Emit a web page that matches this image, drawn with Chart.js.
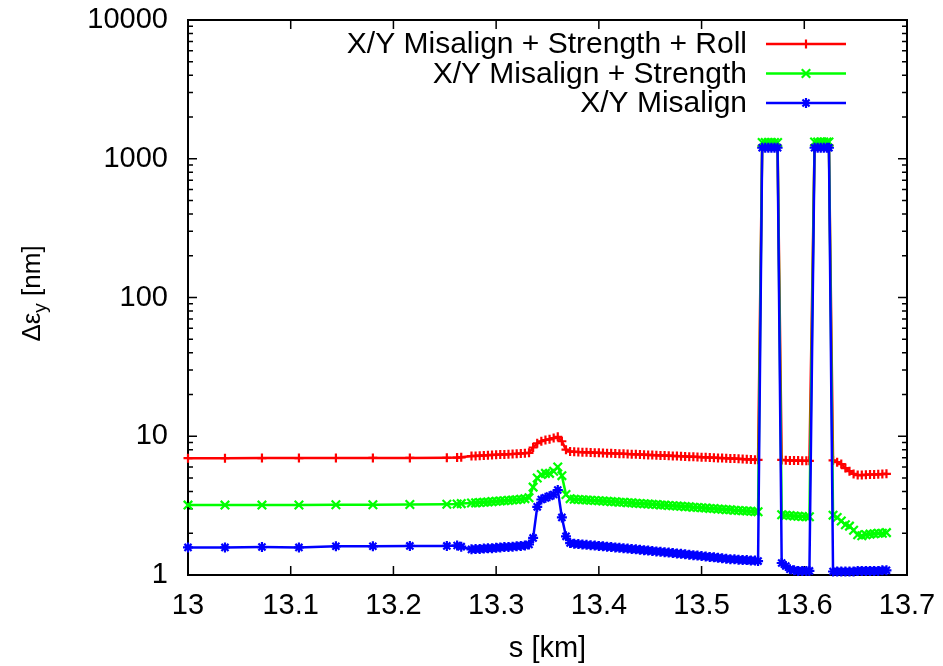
<!DOCTYPE html>
<html>
<head>
<meta charset="utf-8">
<script src="https://cdn.jsdelivr.net/npm/chart.js@4.4.0/dist/chart.umd.min.js"></script>
<style>
  html, body { margin: 0; padding: 0; background: #fff; }
  #wrap { width: 943px; height: 666px; }
</style>
</head>
<body>
<div id="wrap"><canvas id="emitChart" width="943" height="666"></canvas></div>
<script>
// s position along the line [km]
const sKm = [
  13.000, 13.036, 13.072, 13.108, 13.144, 13.180, 13.216, 13.252, 13.262, 13.266,
  13.276, 13.280, 13.284, 13.288, 13.292, 13.296, 13.300, 13.304, 13.308, 13.312,
  13.316, 13.320, 13.324, 13.328, 13.332, 13.336, 13.340, 13.344, 13.348, 13.352,
  13.356, 13.360, 13.364, 13.368, 13.372, 13.376, 13.380, 13.384, 13.388, 13.392,
  13.396, 13.400, 13.404, 13.408, 13.412, 13.416, 13.420, 13.424, 13.428, 13.432,
  13.436, 13.440, 13.444, 13.448, 13.452, 13.456, 13.460, 13.464, 13.468, 13.472,
  13.476, 13.480, 13.484, 13.488, 13.492, 13.496, 13.500, 13.504, 13.508, 13.512,
  13.516, 13.520, 13.524, 13.528, 13.532, 13.536, 13.540, 13.544, 13.548, 13.552,
  13.555,
  13.559, 13.562, 13.565, 13.568, 13.571, 13.574,
  13.578, 13.582, 13.586, 13.590, 13.594, 13.598, 13.602, 13.605,
  13.610, 13.613, 13.616, 13.619, 13.622, 13.624,
  13.628, 13.632, 13.636, 13.640, 13.644, 13.648, 13.652, 13.656, 13.660, 13.664,
  13.668, 13.672, 13.676, 13.680
];

// delta emittance y [nm]
const misStrRoll = [
  6.95, 6.95, 6.96, 6.96, 6.97, 6.98, 6.98, 7.00, 7.02, 7.05,
  7.20, 7.22, 7.25, 7.27, 7.30, 7.33, 7.35, 7.38, 7.40, 7.43,
  7.45, 7.48, 7.51, 7.55, 7.6, 8.3, 8.9, 9.2, 9.4, 9.5,
  9.7, 9.9, 9.2, 8.0, 7.75, 7.72, 7.70, 7.68, 7.66, 7.64,
  7.62, 7.60, 7.57, 7.55, 7.53, 7.51, 7.49, 7.47, 7.45, 7.43,
  7.41, 7.39, 7.36, 7.34, 7.32, 7.30, 7.28, 7.26, 7.24, 7.22,
  7.20, 7.18, 7.15, 7.13, 7.11, 7.09, 7.07, 7.05, 7.03, 7.01,
  6.98, 6.96, 6.94, 6.92, 6.90, 6.88, 6.85, 6.82, 6.80, 6.78,
  6.76,
  1240, 1250, 1250, 1250, 1250, 1240,
  6.75, 6.72, 6.70, 6.68, 6.68, 6.66, 6.65, 6.65,
  1250, 1260, 1260, 1260, 1260, 1250,
  6.7, 6.5, 6.3, 5.9, 5.6, 5.35, 5.25, 5.25, 5.28, 5.30,
  5.30, 5.32, 5.34, 5.36
];

const misStr = [
  3.19, 3.19, 3.19, 3.20, 3.21, 3.21, 3.22, 3.24, 3.25, 3.27,
  3.30, 3.31, 3.33, 3.35, 3.36, 3.38, 3.40, 3.42, 3.43, 3.45,
  3.47, 3.49, 3.52, 3.55, 3.6, 4.3, 5.0, 5.3, 5.4, 5.4,
  5.6, 6.0, 5.2, 3.8, 3.55, 3.52, 3.50, 3.49, 3.47, 3.46,
  3.44, 3.43, 3.41, 3.40, 3.38, 3.37, 3.35, 3.34, 3.32, 3.31,
  3.29, 3.28, 3.26, 3.25, 3.23, 3.22, 3.20, 3.19, 3.17, 3.16,
  3.14, 3.13, 3.11, 3.10, 3.08, 3.07, 3.05, 3.04, 3.02, 3.01,
  2.99, 2.98, 2.96, 2.95, 2.93, 2.92, 2.90, 2.89, 2.88, 2.87,
  2.86,
  1310, 1310, 1310, 1310, 1310, 1310,
  2.72, 2.70, 2.68, 2.66, 2.65, 2.64, 2.63, 2.63,
  1320, 1320, 1320, 1320, 1320, 1320,
  2.7, 2.6, 2.45, 2.3, 2.25, 2.1, 1.95, 1.92, 1.95, 1.97,
  1.98, 2.0, 2.0, 2.02
];

const misOnly = [
  1.58, 1.58, 1.59, 1.58, 1.61, 1.61, 1.62, 1.62, 1.63, 1.60,
  1.53, 1.54, 1.54, 1.55, 1.56, 1.56, 1.57, 1.58, 1.59, 1.59,
  1.60, 1.61, 1.62, 1.63, 1.66, 1.85, 3.1, 3.5, 3.6, 3.7,
  3.8, 4.1, 2.6, 1.9, 1.7, 1.68, 1.67, 1.66, 1.65, 1.64,
  1.63, 1.62, 1.61, 1.60, 1.59, 1.58, 1.57, 1.56, 1.55, 1.54,
  1.53, 1.52, 1.51, 1.50, 1.49, 1.48, 1.47, 1.46, 1.45, 1.44,
  1.43, 1.42, 1.41, 1.40, 1.39, 1.38, 1.37, 1.36, 1.35, 1.34,
  1.33, 1.32, 1.31, 1.30, 1.30, 1.29, 1.28, 1.28, 1.27, 1.27,
  1.26,
  1200, 1200, 1200, 1200, 1200, 1200,
  1.22, 1.16, 1.10, 1.08, 1.07, 1.07, 1.07, 1.07,
  1200, 1200, 1200, 1200, 1200, 1200,
  1.06, 1.06, 1.06, 1.06, 1.06, 1.06, 1.07, 1.07, 1.07, 1.07,
  1.07, 1.07, 1.08, 1.08
];

const seriesNames = ['X/Y Misalign + Strength + Roll', 'X/Y Misalign + Strength', 'X/Y Misalign'];
const seriesColors = ['#ff0000', '#00ff00', '#0000ff'];
const seriesMarkers = ['cross', 'crossRot', 'star'];
const markerSizes = [4.5, 6, 5];

const xTicks = [13, 13.1, 13.2, 13.3, 13.4, 13.5, 13.6, 13.7];
const xTickText = ['13', '13.1', '13.2', '13.3', '13.4', '13.5', '13.6', '13.7'];
const yTicks = [1, 10, 100, 1000, 10000];

const FONT = "'Liberation Sans', Arial, sans-serif";
Chart.defaults.font.family = FONT;
Chart.defaults.color = '#000';

const seriesData = [misStrRoll, misStr, misOnly];
const datasets = seriesData.map((vals, i) => ({
  label: seriesNames[i],
  data: sKm.map((s, j) => ({ x: s, y: vals[j] })),
  borderColor: seriesColors[i],
  backgroundColor: seriesColors[i],
  borderWidth: 2.5,
  pointStyle: seriesMarkers[i],
  pointRadius: markerSizes[i],
  pointBorderWidth: 2.2,
  pointBorderColor: seriesColors[i],
  tension: 0,
  clip: false,
  order: 2 - i
}));

// box + inward ticks (gnuplot style)
const frame = {
  id: 'frame',
  beforeDatasetsDraw(chart) {
    const { ctx, chartArea: a, scales: { x, y } } = chart;
    ctx.save();
    ctx.strokeStyle = '#000';
    ctx.lineWidth = 1.5;
    ctx.beginPath();
    xTicks.forEach(v => {
      const px = x.getPixelForValue(v);
      ctx.moveTo(px, a.bottom); ctx.lineTo(px, a.bottom - 9);
      ctx.moveTo(px, a.top); ctx.lineTo(px, a.top + 9);
    });
    yTicks.forEach(d => {
      for (let m = 1; m <= 9; m++) {
        const v = d * m;
        if (v > 10000) break;
        const py = y.getPixelForValue(v);
        const len = m === 1 ? 9 : 5;
        ctx.moveTo(a.left, py); ctx.lineTo(a.left + len, py);
        ctx.moveTo(a.right, py); ctx.lineTo(a.right - len, py);
      }
    });
    ctx.stroke();
    ctx.lineWidth = 2;
    ctx.strokeRect(a.left, a.top, a.right - a.left, a.bottom - a.top);
    ctx.restore();
  },
  afterDraw(chart) {
    const { ctx, chartArea: a } = chart;
    ctx.save();
    // legend
    ctx.font = '30px ' + FONT;
    ctx.textAlign = 'right';
    ctx.textBaseline = 'middle';
    seriesNames.forEach((name, i) => {
      const yy = a.top + 24 + i * 29.5;
      ctx.fillStyle = '#000';
      ctx.fillText(name, a.right - 160, yy + 1);
      ctx.strokeStyle = seriesColors[i];
      ctx.lineWidth = 2.5;
      ctx.beginPath();
      ctx.moveTo(a.right - 141, yy);
      ctx.lineTo(a.right - 61, yy);
      ctx.stroke();
      ctx.lineWidth = 2.2;
      Chart.helpers.drawPoint(ctx, { pointStyle: seriesMarkers[i], radius: markerSizes[i], rotation: 0, borderWidth: 2.2 }, a.right - 101, yy);
    });
    // y title with subscript
    ctx.translate(31, (a.top + a.bottom) / 2 - 4);
    ctx.rotate(-Math.PI / 2);
    ctx.fillStyle = '#000';
    ctx.textBaseline = 'alphabetic';
    ctx.textAlign = 'left';
    const big = '26px ' + FONT, small = '19px ' + FONT;
    ctx.font = big;
    const w1 = ctx.measureText('\u0394\u03b5').width;
    ctx.font = small;
    const w2 = ctx.measureText('y').width;
    ctx.font = big;
    const w3 = ctx.measureText(' [nm]').width;
    let x0 = -(w1 + w2 + w3) / 2;
    ctx.fillText('\u0394\u03b5', x0, 9);
    ctx.font = small;
    ctx.fillText('y', x0 + w1, 15);
    ctx.font = big;
    ctx.fillText(' [nm]', x0 + w1 + w2, 9);
    ctx.restore();
  }
};

new Chart(document.getElementById('emitChart'), {
  type: 'line',
  data: { datasets },
  options: {
    responsive: false,
    animation: false,
    devicePixelRatio: 1,
    layout: { padding: { top: 20, right: 36, left: 0, bottom: 0 } },
    plugins: { legend: { display: false }, tooltip: { enabled: false } },
    scales: {
      x: {
        type: 'linear',
        min: 13,
        max: 13.7,
        afterBuildTicks: s => { s.ticks = xTicks.map(v => ({ value: v })); },
        afterFit: s => { s.height = 91; s.paddingLeft = 0; s.paddingRight = 0; },
        grid: { display: false, drawTicks: false },
        border: { display: false },
        ticks: {
          font: { size: 29 },
          color: '#000',
          padding: 14,
          maxRotation: 0,
          autoSkip: false,
          callback: (v, i) => xTickText[i]
        },
        title: { display: true, text: 's [km]', font: { size: 29 }, color: '#000', padding: { top: 0, bottom: 0 } }
      },
      y: {
        type: 'logarithmic',
        min: 1,
        max: 10000,
        afterBuildTicks: s => { s.ticks = yTicks.map(v => ({ value: v })); },
        afterFit: s => { s.width = 188; s.paddingTop = 0; s.paddingBottom = 0; },
        grid: { display: false, drawTicks: false },
        border: { display: false },
        ticks: {
          font: { size: 29 },
          color: '#000',
          padding: 20,
          autoSkip: false,
          callback: v => String(v)
        }
      }
    }
  },
  plugins: [frame]
});
</script>
</body>
</html>
